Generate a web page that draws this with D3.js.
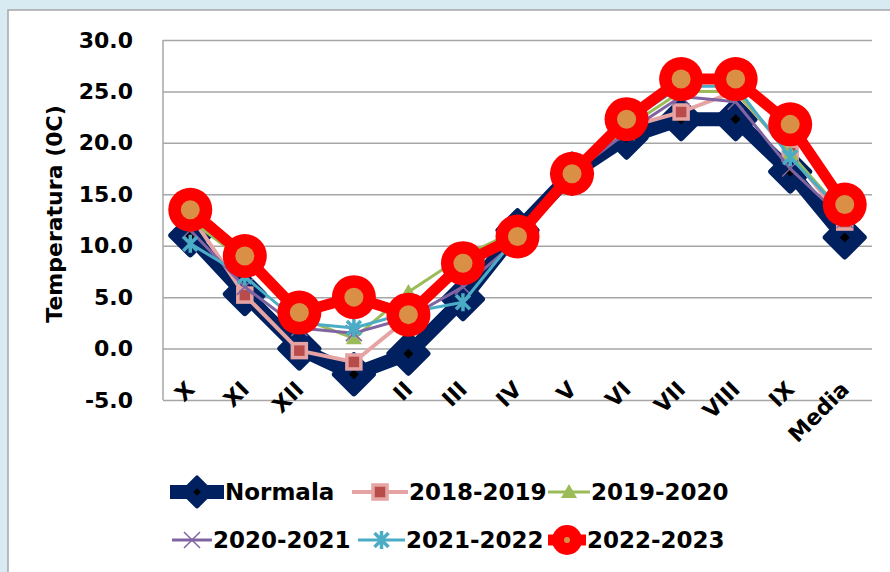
<!DOCTYPE html>
<html>
<head>
<meta charset="utf-8">
<script src="https://cdn.jsdelivr.net/npm/d3@7"></script>
<style>
  html, body { margin: 0; padding: 0; background: #d8ebf3; }
  svg { display: block; }
</style>
</head>
<body>
<div id="chart"></div>
<script>
// categories (months of the agricultural year + mean)
var months = ["X", "XI", "XII", "I", "II", "III", "IV", "V", "VI", "VII", "VIII", "IX", "Media"];
var yTicks = [-5, 0, 5, 10, 15, 20, 25, 30];

// series values
var normala  = [11.0, 5.3, 0.0, -2.5, -0.5, 4.8, 11.5, 17.0, 20.5, 22.3, 22.3, 17.2, 10.8];
var s1819    = [13.0, 5.2, -0.2, -1.3, 3.0, 8.0, 11.0, 17.0, 21.5, 23.0, 25.0, 19.0, 12.3];
var s1920    = [12.5, 8.5, 3.0, 1.0, 5.5, 9.0, 11.5, 17.0, 21.5, 25.0, 25.0, 19.0, 13.0];
var s2021    = [11.5, 6.0, 2.0, 1.5, 3.0, 6.0, 10.5, 17.0, 21.0, 24.5, 24.0, 17.5, 12.5];
var s2122    = [10.2, 7.0, 2.5, 2.0, 3.5, 4.5, 11.0, 17.0, 22.0, 25.5, 25.5, 18.6, 13.0];
var s2223    = [13.5, 9.0, 3.5, 5.0, 3.3, 8.3, 10.9, 17.0, 22.3, 26.2, 26.2, 21.8, 14.0];

var seriesNames = ["Normala", "2018-2019", "2019-2020", "2020-2021", "2021-2022", "2022-2023"];

var width = 890, height = 572;
var plot = {left: 163, right: 872, top: 40, bottom: 400};
var font = "'DejaVu Sans', Verdana, sans-serif";

var svg = d3.select("#chart").append("svg")
  .attr("width", width).attr("height", height)
  .attr("viewBox", "0,0," + width + "," + height);

//BACKGROUND
svg.append("rect").attr("x", 0).attr("y", 0).attr("width", width).attr("height", height).attr("fill", "#d8ebf3");
svg.append("rect").attr("x", 8).attr("y", 10).attr("width", width + 20).attr("height", height + 20)
  .attr("fill", "white").attr("stroke", "#a6a6a6").attr("stroke-width", 1.5);

var x = d3.scalePoint().domain(months).range([plot.left, plot.right]).padding(0.5);
var y = d3.scaleLinear().domain([-5, 30]).range([plot.bottom, plot.top]);

//GRID + Y AXIS
var yAxis = svg.append("g").attr("transform", "translate(" + plot.left + ",0)")
  .call(d3.axisLeft(y).tickValues(yTicks).tickSize(-(plot.right - plot.left)).tickPadding(30));
yAxis.select(".domain").attr("stroke", "#a6a6a6").attr("stroke-width", 1.5).attr("d", "M0," + plot.bottom + "V" + plot.top);
yAxis.selectAll(".tick line").attr("stroke", "#a6a6a6").attr("stroke-width", 1.5);
yAxis.selectAll(".tick text")
  .attr("font-family", font).attr("font-size", "22px").attr("font-weight", "bold").attr("fill", "black")
  .text(function(d){ return d < 0 ? "-" + d3.format(".1f")(-d) : d3.format(".1f")(d); });

svg.append("text")
  .attr("transform", "translate(62," + ((plot.top + plot.bottom) / 2 - 6) + ") rotate(-90)")
  .attr("text-anchor", "middle")
  .attr("font-family", font).attr("font-size", "22px").attr("font-weight", "bold")
  .text("Temperatura (0C)");

//X LABELS
svg.selectAll("text.xlab").data(months).enter().append("text")
  .attr("class", "xlab")
  .attr("transform", function(d){ return "translate(" + (x(d) - 6) + ",379) rotate(-45)"; })
  .attr("text-anchor", "end")
  .attr("dy", "0.75em")
  .attr("font-family", font).attr("font-size", "22px").attr("font-weight", "bold")
  .text(function(d){ return d; });

//MARKERS
function diamond(r){ return "M0," + (-r) + "L" + r + ",0L0," + r + "L" + (-r) + ",0Z"; }
function drawMarker(g, kind, s){
  s = s || 1;
  if (kind == "normala") {
    g.append("path").attr("d", diamond(19 * s)).attr("fill", "#002060")
      .attr("stroke", "#002060").attr("stroke-width", 6 * s).attr("stroke-linejoin", "round");
    g.append("path").attr("d", diamond(5 * s)).attr("fill", "black");
  } else if (kind == "square") {
    g.append("rect").attr("x", -7).attr("y", -7).attr("width", 14).attr("height", 14)
      .attr("fill", "#b84c4a").attr("stroke", "#e6a3a3").attr("stroke-width", 3.5);
  } else if (kind == "triangle") {
    g.append("path").attr("d", "M0,-8L8,6L-8,6Z").attr("fill", "#9bbb59");
  } else if (kind == "cross") {
    g.append("path").attr("d", "M-8,-8L8,8M-8,8L8,-8").attr("stroke", "#8064a2").attr("stroke-width", 1.5);
  } else if (kind == "star") {
    g.append("path").attr("d", "M-7,-7L7,7M-7,7L7,-7M0,-9V9").attr("stroke", "#4bacc6").attr("stroke-width", 3.5);
  } else if (kind == "circle") {
    g.append("circle").attr("r", 22 * s).attr("fill", "#ff0000");
    g.append("circle").attr("r", (s < 1 ? 3 : 9.5)).attr("fill", "#d98f45");
  }
}

var series = [
  {name: seriesNames[0], values: normala, colour: "#002060", w: 14, marker: "normala"},
  {name: seriesNames[1], values: s1819, colour: "#e6a3a3", w: 4, marker: "square"},
  {name: seriesNames[2], values: s1920, colour: "#9bbb59", w: 3, marker: "triangle"},
  {name: seriesNames[3], values: s2021, colour: "#8064a2", w: 3, marker: "cross"},
  {name: seriesNames[4], values: s2122, colour: "#4bacc6", w: 3, marker: "star"},
  {name: seriesNames[5], values: s2223, colour: "#ff0000", w: 11, marker: "circle"}
];

var line = d3.line()
  .x(function(d, i){ return x(months[i]); })
  .y(function(d){ return y(d); });

series.forEach(function(s){
  var g = svg.append("g");
  g.append("path").attr("d", line(s.values)).attr("fill", "none")
    .attr("stroke", s.colour).attr("stroke-width", s.w).attr("stroke-linejoin", "round");
  s.values.forEach(function(v, i){
    var m = g.append("g").attr("transform", "translate(" + x(months[i]) + "," + y(v) + ")");
    drawMarker(m, s.marker);
  });
});

//LEGEND
var legendPos = [
  {x: 170, y: 492, lw: 54}, {x: 352, y: 492, lw: 56}, {x: 548, y: 492, lw: 42},
  {x: 172, y: 540, lw: 40}, {x: 358, y: 540, lw: 47}, {x: 548, y: 540, lw: 38}
];
series.forEach(function(s, i){
  var p = legendPos[i];
  var g = svg.append("g").attr("transform", "translate(" + p.x + "," + p.y + ")");
  g.append("line").attr("x1", 0).attr("x2", p.lw).attr("y1", 0).attr("y2", 0)
    .attr("stroke", s.colour).attr("stroke-width", s.w);
  var m = g.append("g").attr("transform", "translate(" + (p.lw / 2) + ",0)");
  drawMarker(m, s.marker, s.marker == "normala" ? 0.75 : (s.marker == "circle" ? 0.68 : 1));
  g.append("text").attr("x", p.lw + 1).attr("y", 0).attr("dy", "0.36em")
    .attr("font-family", font).attr("font-size", "23px").attr("font-weight", "bold")
    .text(s.name);
});
</script>
</body>
</html>
